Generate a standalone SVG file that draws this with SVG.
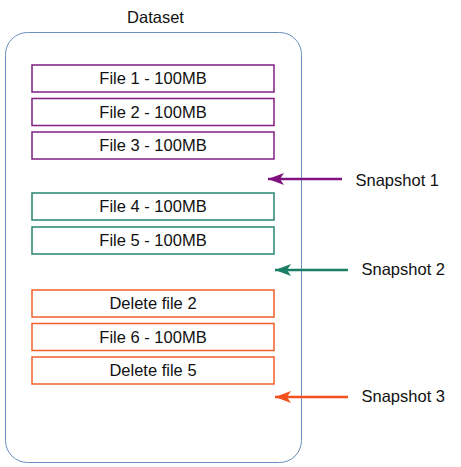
<svg xmlns="http://www.w3.org/2000/svg" width="461" height="467" viewBox="0 0 461 467">
<style>
text{font-family:"Liberation Sans",Arial,sans-serif;font-size:16.5px;fill:#111;}
.box{fill:#fff;stroke-width:1.5;}
.p{stroke:#7F1F7F;}
.g{stroke:#2A8470;}
.o{stroke:#F0602A;}
.c{fill:none;stroke-width:2.6;}
</style>
<defs>
<marker id="ap" markerWidth="17" markerHeight="12" refX="16" refY="6" orient="auto" markerUnits="userSpaceOnUse"><path d="M0,0 L16,6 L0,12 L4,6 Z" fill="#7F127F"/></marker>
<marker id="ag" markerWidth="17" markerHeight="12" refX="16" refY="6" orient="auto" markerUnits="userSpaceOnUse"><path d="M0,0 L16,6 L0,12 L4,6 Z" fill="#1A7F64"/></marker>
<marker id="ao" markerWidth="17" markerHeight="12" refX="16" refY="6" orient="auto" markerUnits="userSpaceOnUse"><path d="M0,0 L16,6 L0,12 L4,6 Z" fill="#F4511E"/></marker>
</defs>
<g id="dataset">
<rect x="5.5" y="32.5" width="296" height="430" rx="22" fill="#fff" stroke="#6C8EBF" stroke-width="1"/>
<text x="155.5" y="23" text-anchor="middle">Dataset</text>
</g>
<g id="file1"><rect class="box p" x="32" y="65" width="242" height="27"/><text x="153" y="84" text-anchor="middle">File 1 - 100MB</text></g>
<g id="file2"><rect class="box p" x="32" y="98.5" width="242" height="27"/><text x="153" y="117.5" text-anchor="middle">File 2 - 100MB</text></g>
<g id="file3"><rect class="box p" x="32" y="132" width="242" height="27"/><text x="153" y="151" text-anchor="middle">File 3 - 100MB</text></g>
<g id="file4"><rect class="box g" x="32" y="193" width="242" height="27"/><text x="153" y="212" text-anchor="middle">File 4 - 100MB</text></g>
<g id="file5"><rect class="box g" x="32" y="227" width="242" height="27"/><text x="153" y="246" text-anchor="middle">File 5 - 100MB</text></g>
<g id="delete2"><rect class="box o" x="32" y="290" width="242" height="27"/><text x="153" y="309" text-anchor="middle">Delete file 2</text></g>
<g id="file6"><rect class="box o" x="32" y="323.5" width="242" height="27"/><text x="153" y="342.5" text-anchor="middle">File 6 - 100MB</text></g>
<g id="delete5"><rect class="box o" x="32" y="357" width="242" height="27"/><text x="153" y="376" text-anchor="middle">Delete file 5</text></g>
<g id="snapshot1"><text x="355.5" y="186">Snapshot 1</text></g>
<g id="snapshot2"><text x="361.5" y="275">Snapshot 2</text></g>
<g id="snapshot3"><text x="361.5" y="402">Snapshot 3</text></g>
<g id="connectors">
<line class="c" x1="342" y1="179" x2="268" y2="179" stroke="#7F127F" marker-end="url(#ap)"/>
<line class="c" x1="348" y1="270" x2="275" y2="270" stroke="#1A7F64" marker-end="url(#ag)"/>
<line class="c" x1="348" y1="397" x2="275" y2="397" stroke="#F4511E" marker-end="url(#ao)"/>
</g>
</svg>
